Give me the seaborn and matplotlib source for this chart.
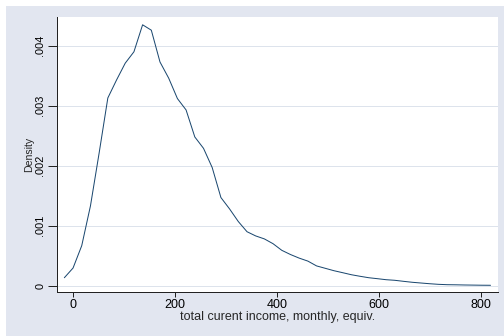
import matplotlib
matplotlib.use("Agg")
import matplotlib.pyplot as plt
import seaborn as sns
import pandas as pd
from matplotlib.patches import Rectangle

# Kernel density estimate of equivalised monthly income (50 evaluation points)
income = [-17.6, -0.5, 16.5, 33.6, 50.6, 67.7, 84.8, 101.8, 118.9, 135.9,
          153.0, 170.0, 187.1, 204.2, 221.2, 238.3, 255.4, 272.4, 289.5, 306.5,
          323.6, 340.7, 357.7, 374.8, 391.8, 408.9, 425.9, 443.0, 460.1, 477.1,
          494.2, 511.2, 528.3, 545.4, 562.4, 579.5, 596.5, 613.6, 630.6, 647.7,
          664.8, 681.8, 698.9, 715.9, 733.0, 750.1, 767.1, 784.2, 801.2, 818.3]
density = [0.000133, 0.000295, 0.000667, 0.00133, 0.00221, 0.00313, 0.00343,
           0.00371, 0.00390, 0.00435, 0.00426, 0.00373, 0.00346, 0.00312,
           0.00293, 0.00248, 0.00229, 0.00197, 0.00147, 0.00128, 0.00107,
           0.00090, 0.00083, 0.00078, 0.00070, 0.00059, 0.00052, 0.00046,
           0.00041, 0.00033, 0.00029, 0.00025, 0.000217, 0.000183, 0.000157,
           0.000133, 0.000117, 0.00010, 0.00009, 0.000073, 0.000057, 0.000045,
           0.000033, 0.000023, 0.000017, 0.000015, 0.000012, 0.00001,
           0.000008, 0.000007]

x_ticks = [0, 200, 400, 600, 800]
y_ticks = [0, 0.001, 0.002, 0.003, 0.004]
y_tick_labels = ["0", ".001", ".002", ".003", ".004"]

df = pd.DataFrame({"income": income, "density": density})

sns.set_theme(style="white")
plt.rcParams["font.family"] = ["Liberation Sans", "DejaVu Sans"]

bg = "#E2E6F0"
fig = plt.figure(figsize=(7, 336 / 72), dpi=72, facecolor="white")
# bluish-gray graph region (leaves a thin white strip top and left)
fig.patches.append(Rectangle((6 / 504, 0), 1 - 6 / 504, 1 - 6 / 336,
                             transform=fig.transFigure, facecolor=bg,
                             edgecolor="none", zorder=-5))

ax = fig.add_axes([57 / 504, 44 / 336, 441 / 504, 275 / 336])
ax.set_zorder(1)
ax.set_facecolor("white")

sns.lineplot(data=df, x="income", y="density", ax=ax, color="#1A476F",
             linewidth=1.0, zorder=3)

ax.set_xlim(-32, 833)
ax.set_ylim(-0.000105, 0.00448)

ax.set_xticks(x_ticks)
ax.set_xticklabels([str(t) for t in x_ticks], fontsize=12.5)
ax.set_yticks(y_ticks)
ax.set_yticklabels(y_tick_labels, fontsize=11, rotation=90, va="center")

ax.grid(axis="y", color="#DDE3EC", linewidth=1.0, zorder=0)
ax.grid(axis="x", visible=False)

for s in ["top", "right"]:
    ax.spines[s].set_visible(False)
for s in ["left", "bottom"]:
    ax.spines[s].set_color("#222222")
    ax.spines[s].set_linewidth(1.0)

ax.tick_params(axis="x", which="major", direction="out", length=5, width=1,
               color="#222222", pad=1.5, labelcolor="black")
ax.tick_params(axis="y", which="major", direction="out", length=9, width=1,
               color="#222222", pad=2.5, labelcolor="black")
ax.tick_params(left=True, bottom=True)

ax.set_xlabel("total curent income, monthly, equiv.", fontsize=12.5,
              labelpad=0.5)
ax.set_ylabel("Density", fontsize=10.5, labelpad=1.5)

fig.savefig("out.png", dpi=72, facecolor="white")
